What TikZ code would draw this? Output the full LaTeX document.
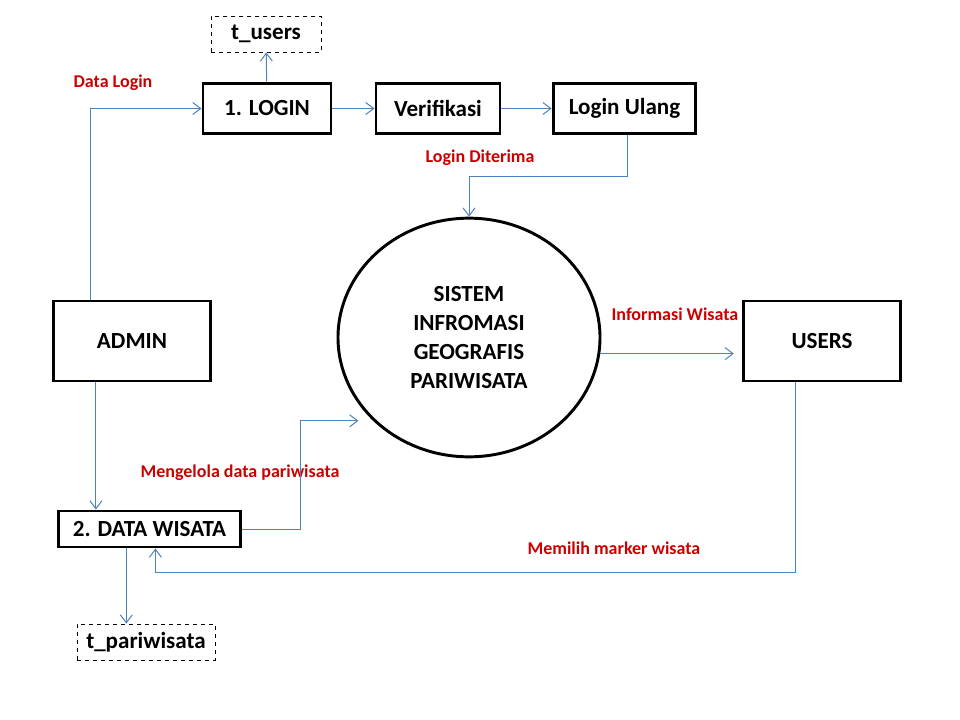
\documentclass[tikz,border=0pt]{standalone}
\usepackage{fontspec}
\setmainfont{Carlito}
\usetikzlibrary{arrows.meta, shapes.geometric}
\definecolor{flowblue}{RGB}{79,129,189}
\definecolor{labelred}{RGB}{204,0,0}

\begin{document}
\begin{tikzpicture}[x=0.75pt,y=-0.75pt,>={Straight Barb[length=6pt,width=9pt]}]
            \tikzstyle{proc}=[draw, line width=2.2pt, inner sep=0pt, font=\bfseries\fontsize{17.3}{20}\selectfont]
            \tikzstyle{entity}=[proc, minimum width=118pt, minimum height=60pt]
            \tikzstyle{store}=[draw, dashed, line width=0.6pt, inner sep=0pt, minimum height=27pt, font=\bfseries\fontsize{17.3}{20}\selectfont]
            \tikzstyle{flow}=[draw=flowblue, line width=0.75pt, ->]
            \tikzstyle{lbl}=[text=labelred, inner sep=0pt, font=\bfseries\fontsize{13.5}{16}\selectfont]

            \useasboundingbox (0,0) rectangle (960,720);

            \node[store, minimum width=82.5pt] (p_tusers) at (266,34) {t\_users};
            \node[proc, minimum width=96pt, minimum height=38pt] (p_login) at (267,108.5) {1. LOGIN};
            \node[proc, minimum width=93pt, minimum height=38pt] (p_verif) at (438,108.5) {Verifikasi};
            \node[proc, minimum width=107pt, minimum height=38pt] (p_ulang) at (624.5,108.5) {Login Ulang};

            \node[entity] (p_admin) at (132,341) {ADMIN};
            \node[entity] (p_users) at (822,341) {USERS};
            \node[ellipse, draw, line width=2.2pt, inner sep=0pt, minimum width=196.5pt, minimum height=179pt, align=center,
                  font=\bfseries\fontsize{17.3}{21.75}\selectfont] (p_sig) at (469,337.5) {SISTEM\\INFROMASI\\GEOGRAFIS\\PARIWISATA};

            \node[proc, minimum width=136pt, minimum height=27pt] (p_dw) at (149.5,529) {2. DATA WISATA};
            \node[store, minimum width=103.5pt] (p_tpar) at (146,642) {t\_pariwisata};

            % labels
            \node[lbl] (l_datalogin) at (113,83) {Data Login};
            \node[lbl] (l_diterima) at (480,158) {Login Diterima};
            \node[lbl] (l_info) at (675,314) {Informasi Wisata};
            \node[lbl] (l_kelola) at (240,473) {Mengelola data pariwisata};
            \node[lbl] (l_marker) at (614,548) {Memilih marker wisata};

            \path[flow]
            (p_login) edge (p_tusers)
            (p_login) edge (p_verif)
            (p_verif) edge (p_ulang);

            \draw[flow] (p_admin.135) |- (p_login.west);
            \draw[flow] (p_ulang.-84) -- ++(0,41) -| (p_sig.north);
            \draw[flow, shorten >=6pt] (p_sig.-7) -- (p_sig.-7 -| p_users.west);
            \draw[flow] (p_admin.229) -- (p_admin.229 |- p_dw.north);
            \draw[flow, shorten >=11pt] (p_dw.east) -- ++(59,0) |- (p_sig.221);
            \draw[flow] (p_users.237) -- ++(0,190) -| (p_dw.287);
            \draw[flow] (p_dw.220) -- (p_dw.220 |- p_tpar.north);

          \end{tikzpicture}
\end{document}
